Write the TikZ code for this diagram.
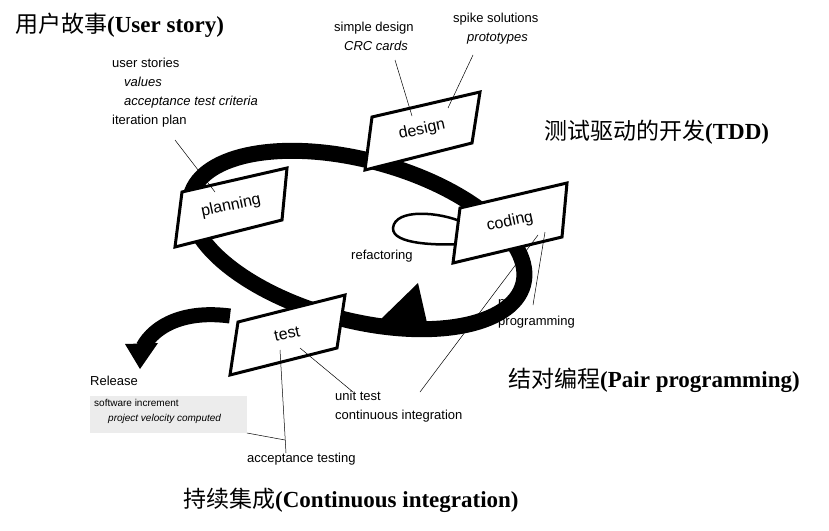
\documentclass[tikz,border=0pt]{standalone}
\usepackage{fontspec}
\setmainfont{Liberation Sans}
\newfontfamily\cjk{Noto Sans CJK SC}
\newfontfamily\tnr{Liberation Serif}
\begin{document}
\begin{tikzpicture}[x=1pt,y=-1pt,
  box/.style={draw,line width=3pt,fill=white,line join=miter},
  boxtxt/.style={font=\fontsize{16}{16}\selectfont,rotate=12},
  lbl/.style={font=\fontsize{13}{19}\selectfont,align=left,anchor=north west,inner sep=0pt},
  ttl/.style={font=\fontsize{23}{25}\selectfont,anchor=west,inner sep=0pt},
  pin/.style={line width=0.5pt}]
\useasboundingbox (0,0) rectangle (829,530);
% main loop
\draw[line width=16pt,rotate around={-15:(357,240)}] (357,240) ellipse [x radius=172, y radius=80];
% arrowhead on loop
\fill (380,320) -- (418,283) -- (430,336) -- cycle;
% release arrow
\draw[line width=15pt] (230,316) .. controls (185,310) and (155,325) .. (143,347);
\fill (140,369) -- (125,344) -- (158,343) -- cycle;
% refactoring loop
\draw[line width=2.5pt,-stealth] (462,222) .. controls (440,212) and (395,208) .. (393,228) .. controls (392,245) and (440,245) .. (464,244);
% boxes
\draw[box] (182,192) -- (287,168) -- (282,220) -- (175,247) -- cycle;
\draw[box] (372,117) -- (480,92) -- (472,143) -- (365,170) -- cycle;
\draw[box] (460,208) -- (567,183) -- (562,237) -- (453,263) -- cycle;
\draw[box] (238,322) -- (345,295) -- (337,348) -- (230,375) -- cycle;
\node[boxtxt] (planning) at (231,206) {planning};
\node[boxtxt] (design) at (422,130) {design};
\node[boxtxt] (coding) at (510,222) {coding};
\node[boxtxt] (test) at (287,334) {test};
% labels
\node[lbl] (us) at (112,58) {user stories\\\hspace*{12pt}\itshape values\\\hspace*{12pt}\itshape acceptance test criteria\\iteration plan};
\node[lbl] (sd) at (334,22) {simple design\\\hspace*{10pt}\itshape CRC cards};
\node[lbl] (sp) at (453,13) {spike solutions\\\hspace*{14pt}\itshape prototypes};
\node[lbl] (rf) at (351,250) {refactoring};
\node[lbl] (pp) at (498,297) {pair\\programming};
\node[lbl] (ut) at (335,391) {unit test\\continuous integration};
\node[lbl] (at) at (247,453) {acceptance testing};
\node[lbl] (rel) at (90,376) {Release};
\fill[gray!15] (90,396) rectangle (247,433);
\node[lbl,font=\fontsize{10}{15}\selectfont] (sw) at (94,399) {software increment\\\hspace*{14pt}\itshape project velocity computed};
% pins
\coordinate (c1) at (175,140); \coordinate (c1e) at (215,192);
\draw[pin] (c1) -- (c1e);
\draw[pin] (395,60) -- (412,116);
\draw[pin] (473,55) -- (448,108);
\draw[pin] (545,232) -- (533,305);
\draw[pin] (538,235) -- (420,392);
\draw[pin] (280,350) -- (286,453);
\draw[pin] (300,348) -- (353,392);
\draw[pin] (247,433) -- (285,440);
% titles
\node[ttl] (t1) at (15,25) {{\cjk 用户故事}{\tnr\bfseries (User story)}};
\node[ttl] (t2) at (544,132) {{\cjk 测试驱动的开发}{\tnr\bfseries (TDD)}};
\node[ttl] (t3) at (508,380) {{\cjk 结对编程}{\tnr\bfseries (Pair programming)}};
\node[ttl] (t4) at (183,500) {{\cjk 持续集成}{\tnr\bfseries (Continuous integration)}};
\end{tikzpicture}
\end{document}
